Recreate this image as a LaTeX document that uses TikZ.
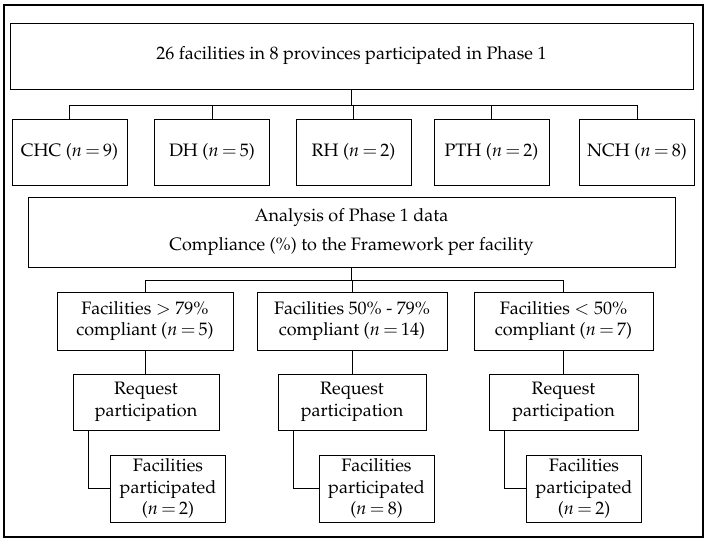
\documentclass[tikz,border=0pt]{standalone}
\usepackage[T1]{fontenc}
\usepackage{mathpazo}
\usepackage{tikz}
\thickmuskip=3mu
\tikzstyle{box}=[draw=black,line width=0.9pt,inner sep=0pt,align=center,font=\fontsize{18}{21.5}\selectfont]
\tikzstyle{link}=[line width=0.9pt]

\begin{document}
\begin{tikzpicture}[x=1pt,y=-1pt]
  \useasboundingbox (0,0) rectangle (711,545);
  \draw[line width=1.6pt] (4,5) rectangle (703,537);

  \node[box,minimum width=683pt,minimum height=66pt] (top) at (351.5,56) {26 facilities in 8 provinces participated in Phase 1};
  \coordinate (bus1) at (351.5,105);
  \draw[link] (top.south) -- (bus1);
  \foreach \nm/\cx/\txt in {chc/69.5/{CHC ($n=9$)},dh/212/{DH ($n=5$)},rh/353.5/{RH ($n=2$)},pth/491.5/{PTH ($n=2$)},nch/637/{NCH ($n=8$)}}{
    \node[box,minimum width=115pt,minimum height=66pt] (\nm) at (\cx,152) {\txt};
    \draw[link] (\nm.north) -- (\nm.north |- bus1);
  }
  \draw[link] (chc.north |- bus1) -- (nch.north |- bus1);

  \node[box,minimum width=647pt,minimum height=70pt] (ana) at (351.5,232) {Analysis of Phase 1 data\\[7pt]Compliance (\%) to the Framework per facility};
  \coordinate (bus2) at (351.5,280);
  \draw[link] (ana.south) -- (bus2);

  \foreach \nm/\cx/\cw/\rx/\rw/\fx/\k/\txt in {hi/145/176/146/146/168/2/{Facilities $>$ 79\%\\compliant ($n=5$)},mid/352/190/352/148/376.5/8/{Facilities 50\% - 79\%\\compliant ($n=14$)},lo/563.5/179/563.5/149/584/2/{Facilities $<$ 50\%\\compliant ($n=7$)}}{
    \node[box,minimum width=\cw pt,minimum height=58pt] (cmp\nm) at (\cx,321) {\txt};
    \node[box,minimum width=\rw pt,minimum height=56pt] (req\nm) at (\rx,402) {Request\\participation};
    \node[box,minimum width=115pt,minimum height=67pt] (fac\nm) at (\fx,488.5) {Facilities\\participated\\($n=\k$)};
    \draw[link] (cmp\nm.north) -- (cmp\nm.north |- bus2);
    \draw[link] (cmp\nm.south) -- (cmp\nm.south |- req\nm.north);
    \draw[link] ([xshift=16pt]req\nm.south west) |- (fac\nm.west);
  }
  \draw[link] (cmphi.north |- bus2) -- (cmplo.north |- bus2);
\end{tikzpicture}
\end{document}
